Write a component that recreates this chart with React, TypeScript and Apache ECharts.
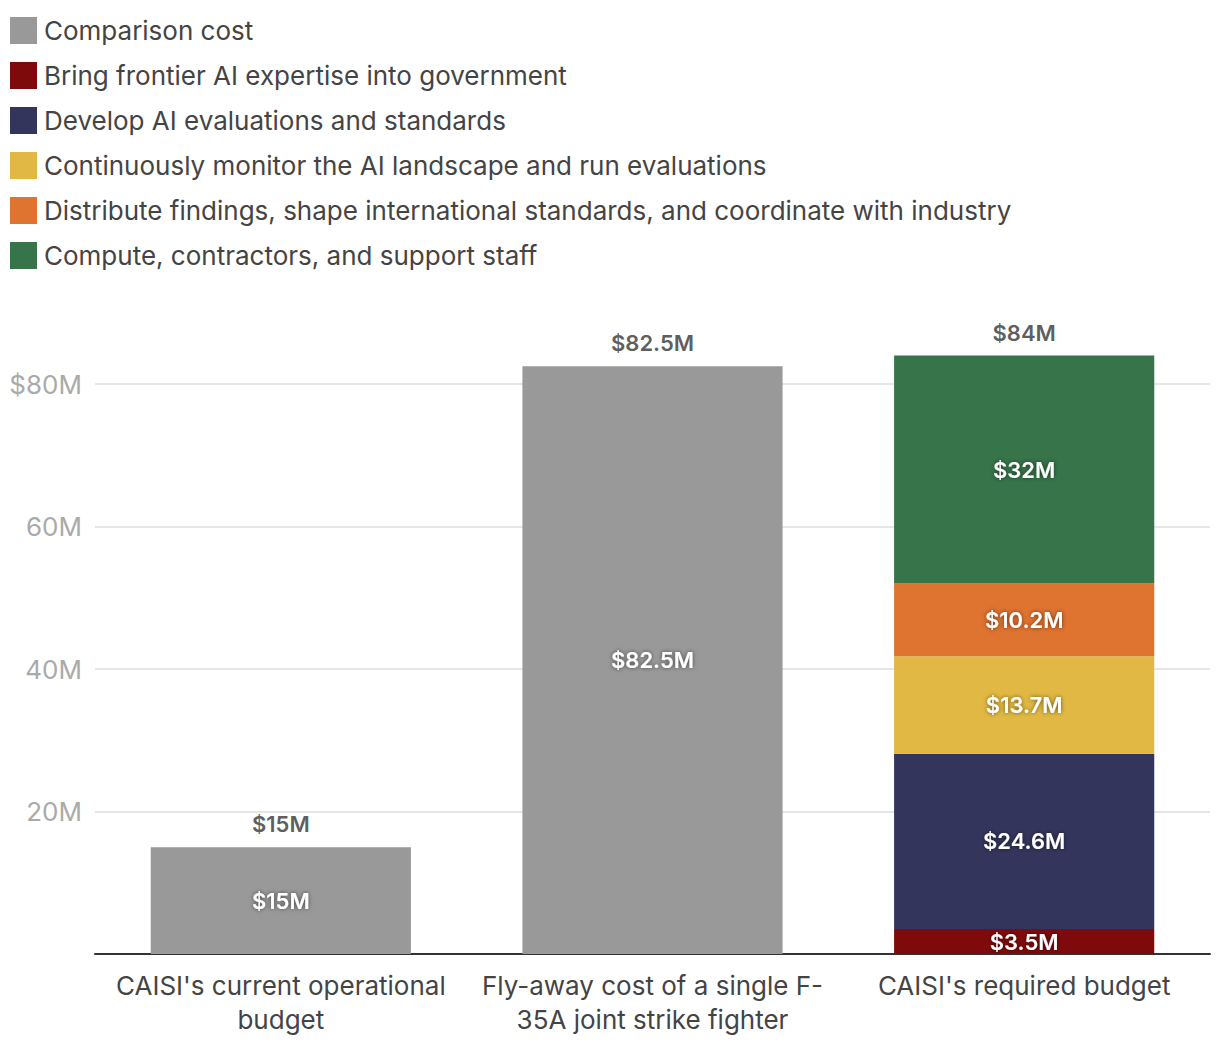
import React, { useEffect, useRef } from "react";
import * as echarts from "echarts";

const categories = [
  "CAISI's current operational\nbudget",
  "Fly-away cost of a single F-\n35A joint strike fighter",
  "CAISI's required budget",
];
const comparisonCost = [15, 82.5, null];
const expertise = [null, null, 3.5];
const evaluations = [null, null, 24.6];
const monitor = [null, null, 13.7];
const distribute = [null, null, 10.2];
const compute = [null, null, 32];
const totals = [15, 82.5, 84];
const yTicks = [0, 20, 40, 60, 80];

const seriesDefs = [
  { name: "Comparison cost", data: comparisonCost, color: "#999999" },
  { name: "Bring frontier AI expertise into government", data: expertise, color: "#7f0a0c" },
  { name: "Develop AI evaluations and standards", data: evaluations, color: "#33355c" },
  { name: "Continuously monitor the AI landscape and run evaluations", data: monitor, color: "#e1b843" },
  { name: "Distribute findings, shape international standards, and coordinate with industry", data: distribute, color: "#df7330" },
  { name: "Compute, contractors, and support staff", data: compute, color: "#37744a" },
];

const FONT = "Inter, Roboto, 'Noto Sans', sans-serif";
const fmt = (v: number) => "$" + v + "M";

export default function App() {
  const ref = useRef<HTMLDivElement>(null);
  useEffect(() => {
    document.body.style.margin = "0";
    if (!ref.current) return;
    const chart = echarts.init(ref.current, undefined, { renderer: "svg" });
    const maxTick = yTicks[yTicks.length - 1];
    const barSeries = seriesDefs.map((s) => ({
      name: s.name,
      type: "bar",
      stack: "total",
      barWidth: "70%",
      clip: false,
      itemStyle: { color: s.color },
      data: s.data,
      label: {
        show: true,
        position: "inside",
        formatter: (p: any) => fmt(p.value),
        color: "#ffffff",
        fontFamily: FONT,
        fontWeight: 600,
        fontSize: 22,
        textShadowColor: "rgba(0,0,0,0.55)",
        textShadowBlur: 4,
      },
    }));
    chart.setOption({
      animation: false,
      textStyle: { fontFamily: FONT },
      legend: {
        orient: "vertical",
        left: 10,
        top: 17,
        padding: 0,
        itemWidth: 27,
        itemHeight: 27,
        itemGap: 18,
        icon: "rect",
        data: seriesDefs.map((s) => s.name),
        textStyle: {
          fontSize: 26,
          color: "#444444",
          fontFamily: FONT,
          lineHeight: 27,
          padding: [0, 0, 0, 2],
        },
        selectedMode: false,
      },
      grid: { left: 95, right: 10, top: 384, bottom: 102, containLabel: false },
      xAxis: {
        type: "category",
        data: categories,
        axisTick: { show: false },
        axisLine: { lineStyle: { color: "#333333", width: 2 } },
        axisLabel: {
          fontSize: 26,
          color: "#444444",
          fontFamily: FONT,
          lineHeight: 34,
          margin: 14,
          interval: 0,
        },
      },
      yAxis: {
        type: "value",
        min: 0,
        max: maxTick,
        interval: 20,
        axisLine: { show: false },
        axisTick: { show: false },
        splitLine: { lineStyle: { color: "#e6e6e6", width: 2 } },
        axisLabel: {
          fontSize: 26,
          color: "#aaaaaa",
          fontFamily: FONT,
          margin: 13,
          formatter: (v: number) => (v === 0 ? "" : v === maxTick ? "$" + v + "M" : v + "M"),
        },
      },
      series: [
        ...barSeries,
        {
          name: "totals",
          type: "scatter",
          symbolSize: 0,
          clip: false,
          data: totals,
          label: {
            show: true,
            position: "top",
            distance: 12,
            formatter: (p: any) => fmt(p.value),
            color: "#333333",
            fontFamily: FONT,
            fontWeight: 600,
            fontSize: 22,
          },
          silent: true,
        },
      ],
    });
    return () => chart.dispose();
  }, []);
  return <div ref={ref} style={{ width: 1220, height: 1056 }} />;
}
